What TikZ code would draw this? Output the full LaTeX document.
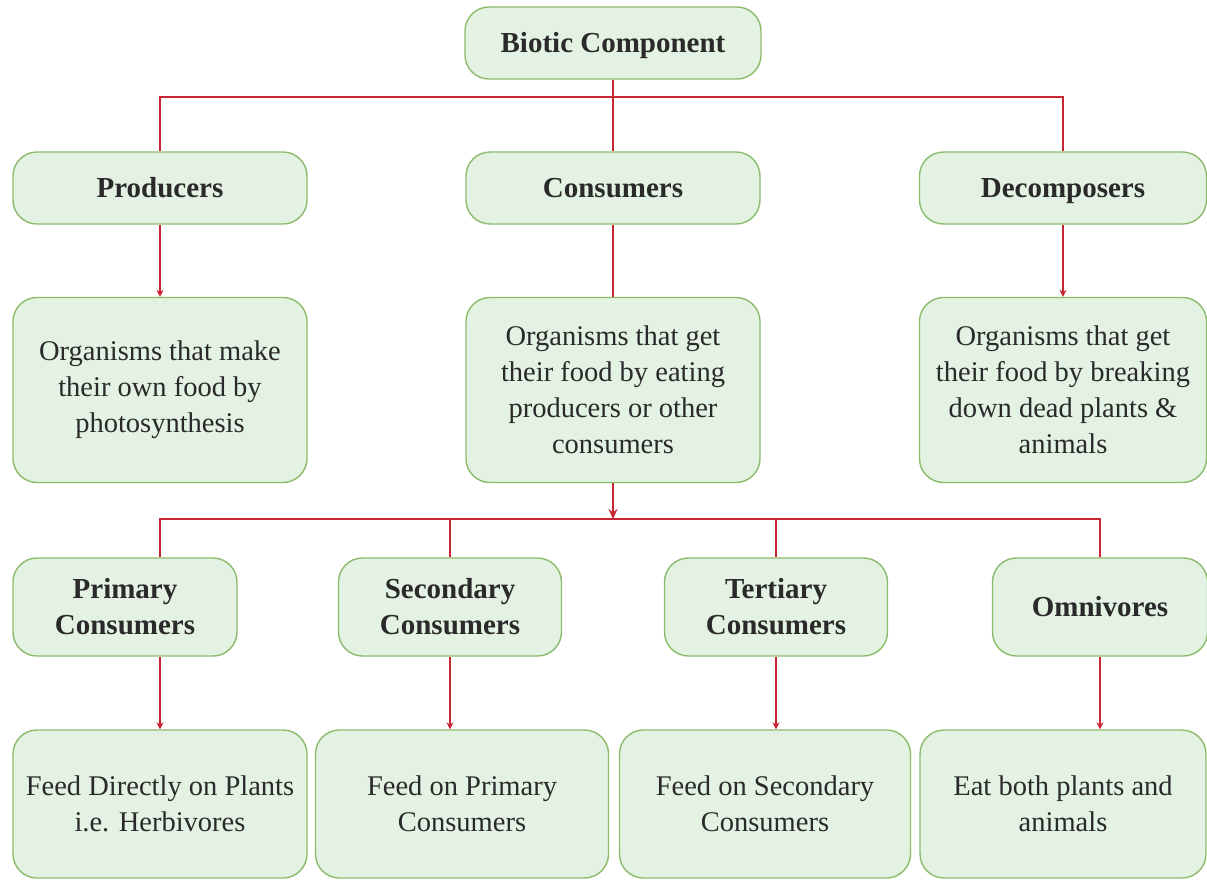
\documentclass[tikz,border=0pt]{standalone}
\usepackage{fontspec}
\setmainfont{Liberation Serif}
\usetikzlibrary{arrows.meta}
\definecolor{boxfill}{HTML}{E3F2E2}
\definecolor{boxline}{HTML}{8CBB6C}
\definecolor{linkred}{HTML}{C82632}
\definecolor{inkgray}{HTML}{2A2A2A}
\tikzset{
  card/.style={draw=boxline, fill=boxfill, line width=1.4pt, rounded corners=24pt,
    inner sep=0pt, align=center, text=inkgray},
  % single line: centre the box on the capitals
  oneline/.style={text height=19.5pt, text depth=0pt},
  % several lines: a little extra room above the first line
  manyline/.style={execute at begin node={\rule{0pt}{36pt}}},
  headbox/.style={card, font=\bfseries\fontsize{29}{36}\selectfont},
  textbox/.style={card, manyline, font=\fontsize{28.5}{36}\selectfont},
  link/.style={draw=linkred, line width=2pt},
  tip/.style={link, -{Stealth[length=7pt,width=7pt]}},
  bigtip/.style={link, -{Stealth[length=10pt,width=9pt]}}
}
\begin{document}
\begin{tikzpicture}[x=1pt,y=-1pt]
\useasboundingbox (0,0) rectangle (1207,881);

% top level
\node[headbox, oneline, minimum width=296pt, minimum height=72pt] (biotic) at (613,43) {Biotic Component};

% second level: the three groups
\node[headbox, oneline, minimum width=294pt, minimum height=72pt] (prod) at (160,188) {Producers};
\node[headbox, oneline, minimum width=294pt, minimum height=72pt] (cons) at (613,188) {Consumers};
\node[headbox, oneline, minimum width=287pt, minimum height=72pt] (decomp) at (1063,188) {Decomposers};

% their descriptions
\node[textbox, minimum width=294pt, minimum height=185pt] (proddesc) at (160,390)
  {Organisms that make\\their own food by\\photosynthesis};
\node[textbox, minimum width=294pt, minimum height=185pt] (consdesc) at (613,390)
  {Organisms that get\\their food by eating\\producers or other\\consumers};
\node[textbox, minimum width=287pt, minimum height=185pt] (decdesc) at (1063,390)
  {Organisms that get\\their food by breaking\\down dead plants \&\\animals};

% kinds of consumers
\node[headbox, manyline, minimum width=224pt, minimum height=98pt] (prim) at (125,607) {Primary\\Consumers};
\node[headbox, manyline, minimum width=223pt, minimum height=98pt] (sec) at (450,607) {Secondary\\Consumers};
\node[headbox, manyline, minimum width=223pt, minimum height=98pt] (ter) at (776,607) {Tertiary\\Consumers};
\node[headbox, oneline, minimum width=215pt, minimum height=98pt] (omni) at (1100,607) {Omnivores};

% what each kind eats
\node[textbox, minimum width=294pt, minimum height=148pt] (primdesc) at (160,804)
  {Feed Directly on Plants\\i.e. Herbivores};
\node[textbox, minimum width=293pt, minimum height=148pt] (secdesc) at (462,804)
  {Feed on Primary\\Consumers};
\node[textbox, minimum width=291pt, minimum height=148pt] (terdesc) at (765,804)
  {Feed on Secondary\\Consumers};
\node[textbox, minimum width=286pt, minimum height=148pt] (omnidesc) at (1063,804)
  {Eat both plants and\\animals};

% bus lines
\coordinate (bus1) at (613,97);
\coordinate (bus2) at (613,519);

% top bus
\draw[link] (biotic.south) -- (cons.north);
\draw[link] (prod.north) -- (prod.north |- bus1) -- (decomp.north |- bus1) -- (decomp.north);

% groups to descriptions
\draw[tip] (prod.south) -- (proddesc.north);
\draw[link] (cons.south) -- (consdesc.north);
\draw[tip] (decomp.south) -- (decdesc.north);

% consumer bus
\draw[bigtip] (consdesc.south) -- (bus2);
\draw[link] (primdesc.north |- prim.north) -- (primdesc.north |- bus2) -- (omni.north |- bus2) -- (omni.north);
\draw[link] (sec.north |- bus2) -- (sec.north);
\draw[link] (ter.north |- bus2) -- (ter.north);

% kinds to diets
\draw[tip] (primdesc.north |- prim.south) -- (primdesc.north);
\draw[tip] (sec.south) -- (sec.south |- secdesc.north);
\draw[tip] (ter.south) -- (ter.south |- terdesc.north);
\draw[tip] (omni.south) -- (omni.south |- omnidesc.north);
\end{tikzpicture}
\end{document}
